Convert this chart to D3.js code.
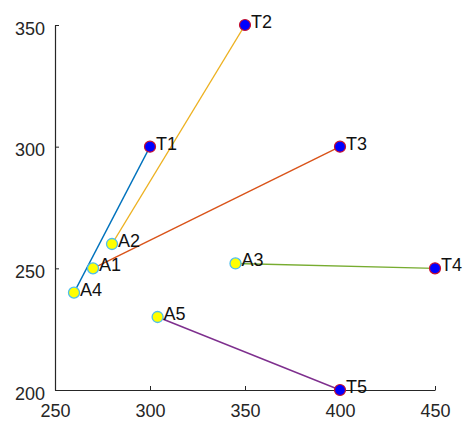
<!DOCTYPE html>
<html><head><meta charset="utf-8">
<script src="https://cdn.jsdelivr.net/npm/d3@7"></script>
<style>body{margin:0;background:#fff}svg{display:block}</style>
</head><body>
<script>
const startLabels = ["A1","A2","A3","A4","A5"];
const startX = [270, 280, 345, 260, 304];
const startY = [250, 260, 252, 240, 230];
const targetLabels = ["T1","T2","T3","T4","T5"];
const targetX = [300, 350, 400, 450, 400];
const targetY = [300, 350, 300, 250, 200];
// assignment: start index -> target index
const assignStart = [3, 1, 0, 2, 4];
const assignTarget = [0, 1, 2, 3, 4];
const lineColors = ["#0072BD", "#EDB120", "#D95319", "#77AC30", "#7E2F8E"];
const xTicks = [250, 300, 350, 400, 450];
const yTicks = [200, 250, 300, 350];

const W = 467, H = 425;
const m = {left: 55, right: 32, top: 25, bottom: 35};
const svg = d3.select("body").append("svg").attr("width", W).attr("height", H);
const x = d3.scaleLinear().domain([250, 450]).range([m.left, W - m.right]);
const y = d3.scaleLinear().domain([200, 350]).range([H - m.bottom, m.top]);

const font = "'Liberation Sans', Arial, Helvetica, sans-serif";
const ax = "#262626";

const xAxis = svg.append("g").attr("transform", `translate(0,${H - m.bottom})`)
  .call(d3.axisBottom(x).tickValues(xTicks).tickSize(-4).tickPadding(11).tickSizeOuter(0));
const yAxis = svg.append("g").attr("transform", `translate(${m.left},0)`)
  .call(d3.axisLeft(y).tickValues(yTicks).tickSize(-4).tickPadding(10).tickSizeOuter(0));
[xAxis, yAxis].forEach(g => {
  g.select(".domain").attr("stroke", ax).attr("stroke-width", 1.2);
  g.selectAll(".tick line").attr("stroke", ax).attr("stroke-width", 1);
  g.selectAll(".tick text").attr("fill", ax).style("font-family", font).style("font-size", "18px");
});
yAxis.selectAll(".tick text").attr("dy", "0.5em");
xAxis.selectAll(".tick text").attr("dy", "0.9em");

const pairs = assignStart.map((s, i) => ({s, t: assignTarget[i], c: lineColors[i]}));
svg.append("g").selectAll("line").data(pairs).join("line")
  .attr("x1", d => x(startX[d.s])).attr("y1", d => y(startY[d.s]))
  .attr("x2", d => x(targetX[d.t])).attr("y2", d => y(targetY[d.t]))
  .attr("stroke", d => d.c).attr("stroke-width", 1.4);

const starts = startX.map((v, i) => ({x: v, y: startY[i], l: startLabels[i]}));
const targets = targetX.map((v, i) => ({x: v, y: targetY[i], l: targetLabels[i]}));

svg.append("g").selectAll("circle").data(starts).join("circle")
  .attr("cx", d => x(d.x)).attr("cy", d => y(d.y)).attr("r", 5.5)
  .attr("fill", "#FFFF00").attr("stroke", "#4DBEEE").attr("stroke-width", 1.3);
svg.append("g").selectAll("circle").data(targets).join("circle")
  .attr("cx", d => x(d.x)).attr("cy", d => y(d.y)).attr("r", 5.5)
  .attr("fill", "#0000FF").attr("stroke", "#C8102E").attr("stroke-width", 1.2);

svg.append("g").selectAll("text").data(starts.concat(targets)).join("text")
  .attr("x", d => x(d.x) + 6).attr("y", d => y(d.y) + 3)
  .style("font-family", font).style("font-size", "18px").attr("fill", "#111")
  .text(d => d.l);
</script>
</body></html>
